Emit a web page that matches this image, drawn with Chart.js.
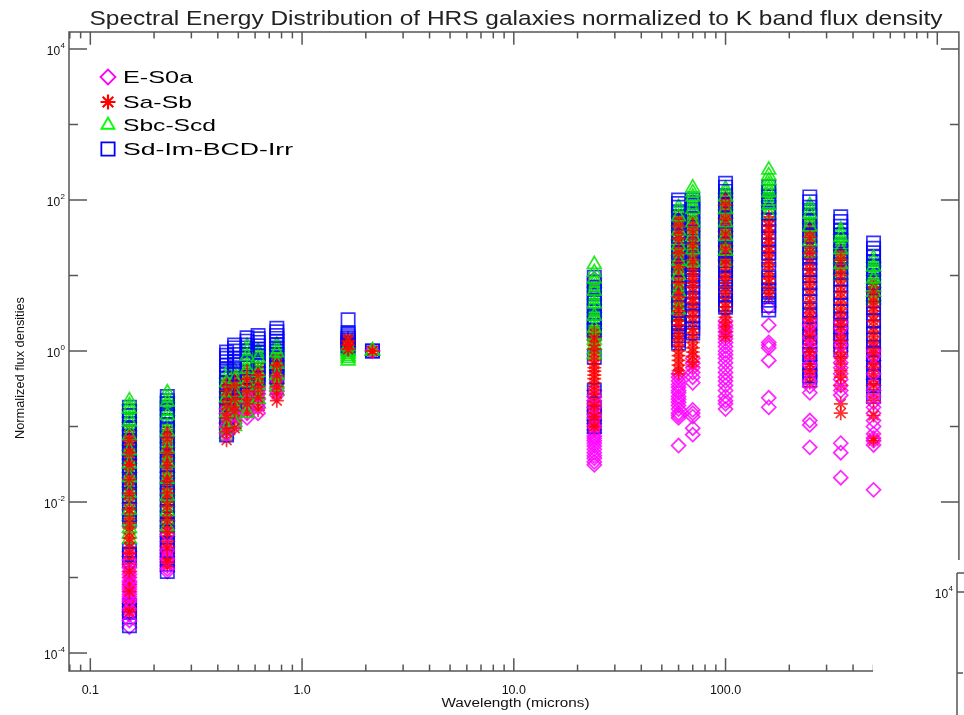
<!DOCTYPE html>
<html><head><meta charset="utf-8">
<script src="https://cdn.jsdelivr.net/npm/chart.js@4.4.0/dist/chart.umd.min.js"></script>
<style>
html,body{margin:0;padding:0;background:#fff;overflow:hidden;width:964px;height:715px}
#wrap{position:relative;width:970px;height:715px}
canvas{display:block}
</style></head>
<body><div id="wrap"><canvas id="c" width="970" height="715"></canvas></div>
<script>
// ---- data ----
const wavelengths = [0.153, 0.231, 0.44, 0.48, 0.55, 0.62, 0.76, 1.65, 2.15, 24, 60, 70, 100, 160, 250, 350, 500];
const seriesNames = ['E-S0a', 'Sa-Sb', 'Sbc-Scd', 'Sd-Im-BCD-Irr'];

const eS0a = [
  [2.2e-3,1.9e-3,1.7e-3,1.5e-3,1.35e-3,1.2e-3,1.1e-3,1.0e-3,9.0e-4,8.5e-4,8.0e-4,7.5e-4,7.0e-4,6.5e-4,6.0e-4,5.6e-4,5.2e-4,4.8e-4,4.5e-4,4.1e-4,3.8e-4,3.5e-4,3.2e-4,2.7e-4,2.2e-4],
  [5.5e-3,4.5e-3,3.7e-3,3.0e-3,2.6e-3,2.3e-3,2.1e-3,1.9e-3,1.75e-3,1.6e-3,1.45e-3,1.3e-3,1.2e-3],
  [0.2,0.17,0.15,0.13,0.11,0.1,0.09,0.08],
  [0.19,0.16,0.14,0.12,0.11,0.1],
  [0.3,0.25,0.22,0.19,0.17,0.15,0.13],
  [0.35,0.3,0.27,0.23,0.2,0.18,0.15],
  [0.55,0.48,0.42,0.37,0.32,0.29,0.26],
  [1.15,1.05],
  [1.0,1.0],
  [9.0,0.3,0.25,0.22,0.2,0.18,0.16,0.145,0.13,0.12,0.11,0.1,0.09,0.082,0.075,0.07,0.065,0.06,0.055,0.05,0.045,0.041,0.038,0.034,0.031],
  [0.5,0.45,0.4,0.36,0.33,0.3,0.28,0.25,0.23,0.21,0.19,0.17,0.15,0.14,0.13,0.056],
  [0.8,0.69,0.6,0.52,0.45,0.38,0.166,0.15,0.135,0.095,0.078],
  [2.5,2.2,2.0,1.8,1.6,1.45,1.3,1.15,1.0,0.9,0.8,0.7,0.6,0.52,0.45,0.4,0.35,0.3,0.25,0.22,0.2,0.17],
  [3.8,2.2,1.3,1.2,1.1,0.75,0.24,0.18],
  [3.0,2.6,2.2,1.9,1.7,1.5,1.3,1.15,1.0,0.88,0.75,0.65,0.55,0.47,0.4,0.34,0.28,0.12,0.105,0.053],
  [2.8,2.4,2.0,1.7,1.4,1.2,1.0,0.85,0.7,0.6,0.5,0.42,0.35,0.3,0.26,0.06,0.045,0.021],
  [1.1,1.0,0.85,0.75,0.62,0.5,0.42,0.35,0.3,0.25,0.21,0.18,0.15,0.12,0.1,0.08,0.07,0.065,0.057,0.0145]
];
const saSb = [
  [0.09,0.075,0.065,0.06,0.052,0.045,0.04,0.035,0.031,0.028,0.024,0.02,0.017,0.015,0.013,0.011,0.0095,0.008,0.007,0.006,0.0052,0.0045,0.0039,0.0033,0.0029,0.0025,0.0021,0.0018,0.0015,0.0012,0.001,0.0008,0.00065,0.0005,0.00042,0.00035],
  [0.09,0.08,0.07,0.06,0.05,0.045,0.04,0.035,0.03,0.026,0.022,0.019,0.017,0.015,0.013,0.0115,0.01,0.0088,0.0075,0.0066,0.0058,0.0051,0.0045,0.004,0.0035,0.003,0.0025,0.0021,0.0018,0.0016,0.0014],
  [0.4,0.35,0.3,0.26,0.22,0.19,0.17,0.15,0.13,0.115,0.1,0.085,0.066],
  [0.45,0.4,0.35,0.3,0.26,0.23,0.2,0.18,0.16,0.14,0.12,0.095],
  [0.55,0.48,0.42,0.37,0.33,0.29,0.26,0.23,0.2,0.175,0.15],
  [0.6,0.54,0.48,0.43,0.38,0.34,0.3,0.27,0.24,0.2,0.165],
  [0.8,0.72,0.65,0.58,0.52,0.47,0.42,0.38,0.34,0.3,0.27,0.22],
  [1.5,1.42,1.35,1.3,1.25,1.2,1.15,1.1,1.05],
  [1.0,1.0,1.0,1.0],
  [1.9,1.7,1.5,1.35,1.2,1.07,0.95,0.85,0.75,0.67,0.6,0.54,0.48,0.43,0.38,0.34,0.3,0.27,0.24,0.21,0.19,0.17,0.15,0.135,0.12,0.11,0.1,0.09],
  [60,52,45,40,35,31,27,23,20,17,15,13,11,9.5,8,7,6,5.2,4.5,3.9,3.4,2.9,2.5,2.2,1.9,1.6,1.4,1.2,1.0,0.87,0.75,0.65,0.55,0.5],
  [55,47,40,35,30,26,22,19,16,14,12,10.5,9,8,7,6,5,4.4,3.8,3.3,2.8,2.4,2.0,1.75,1.5,1.3,1.1,0.97,0.85,0.72,0.62],
  [110,100,87,75,65,55,48,40,35,30,26,22,19,16,14,12,10.5,9,8,7,6,5,4.4,3.8,3.3,2.8,2.4,2.1,1.8,1.55],
  [60,52,45,40,35,31,27,24,21,18.5,16,14,12,10.5,9,8,7,6,5.2],
  [45,38,32,28,24,20,17,14.5,12,10.5,9,7.7,6.5,5.5,4.5,3.8,3.2,2.7,2.3,1.9,1.6,1.35,1.1,0.95,0.8,0.67,0.55,0.46,0.38],
  [22,19,16,14,12,10,8.5,7.2,6,5.1,4.3,3.6,3.1,2.6,2.2,1.9,1.6,1.35,1.1,0.95,0.8,0.67,0.55,0.45,0.35,0.2,0.15],
  [8,7,6,5.2,4.5,3.9,3.4,2.9,2.5,2.1,1.8,1.55,1.3,1.1,0.95,0.82,0.7,0.6,0.5,0.42,0.35,0.28,0.22,0.14,0.07,0.065]
];
const sbcScd = [
  [0.22,0.19,0.17,0.15,0.13,0.115,0.1,0.087,0.075,0.065,0.055,0.048,0.042,0.037,0.032,0.028,0.024,0.021,0.018,0.015,0.013,0.011,0.009,0.0078,0.0065,0.0055,0.0045,0.0038,0.0032],
  [0.28,0.24,0.21,0.19,0.16,0.14,0.12,0.1,0.085,0.07,0.06,0.05,0.044,0.038,0.033,0.028,0.024,0.02,0.017,0.014,0.012,0.01,0.0087,0.0075,0.0065,0.0055,0.0047,0.004],
  [0.5,0.44,0.38,0.33,0.28,0.24,0.2,0.17,0.15,0.13,0.11,0.095,0.08],
  [0.55,0.48,0.42,0.37,0.32,0.28,0.24,0.21,0.18,0.15,0.13,0.115,0.1],
  [1.15,1.0,0.85,0.75,0.65,0.57,0.5,0.44,0.38,0.33,0.28,0.24,0.21,0.18,0.15],
  [1.0,0.9,0.8,0.7,0.6,0.52,0.45,0.4,0.35,0.31,0.27,0.23,0.2],
  [1.2,1.07,0.95,0.85,0.75,0.67,0.6,0.54,0.48,0.43,0.38,0.34,0.3],
  [1.3,1.22,1.15,1.07,1.0,0.95,0.9,0.85,0.8,0.74],
  [1.0,1.0,1.0],
  [14,11,9,8,7,6.2,5.5,4.8,4.2,3.7,3.3,2.9,2.6,2.3,2.0,1.8,1.6,1.4,1.2,1.05,0.9],
  [80,70,60,52,45,39,34,29,25,21,18,15.5,13,11.5,10,8.5,7,6,5,4.2,3.5,2.8],
  [145,125,110,97,85,75,65,57,50,44,38,33,28,25,22,19.5,17,15,13],
  [140,125,110,97,85,75,65,57,50,44,38,33,28,24,21,18,15],
  [250,210,180,160,140,125,110,97,85,75,65],
  [85,75,65,57,50,44,38,33,28,24,20],
  [40,36,32,28,25,22,19,16.5,14,12,10],
  [17,15,13,11.5,10,9,8,7,6,5.3,4.8]
];
const sdImBcdIrr = [
  [0.18,0.16,0.14,0.125,0.11,0.097,0.085,0.075,0.065,0.057,0.05,0.045,0.04,0.035,0.03,0.026,0.022,0.019,0.016,0.014,0.012,0.01,0.008,0.0068,0.0058,0.0023,0.002,0.0017,0.00043,0.00036,0.0003,0.00023],
  [0.25,0.22,0.2,0.18,0.16,0.14,0.12,0.105,0.09,0.08,0.07,0.06,0.05,0.042,0.035,0.03,0.025,0.021,0.018,0.015,0.013,0.011,0.009,0.0075,0.006,0.005,0.004,0.0034,0.0028,0.0023,0.0019,0.0015,0.0012],
  [0.97,0.88,0.8,0.72,0.65,0.57,0.5,0.44,0.38,0.33,0.28,0.24,0.2,0.16,0.13,0.098,0.077],
  [1.2,1.1,1.0,0.9,0.8,0.72,0.65,0.57,0.5,0.44,0.38,0.33,0.28,0.24,0.2],
  [1.5,1.35,1.2,1.1,1.0,0.9,0.8,0.7,0.6,0.52,0.45,0.4,0.35,0.3,0.26],
  [1.6,1.45,1.3,1.17,1.05,0.95,0.85,0.75,0.65,0.57,0.5,0.44,0.38],
  [2.0,1.8,1.6,1.47,1.35,1.22,1.1,1.0,0.9,0.8,0.7,0.62,0.55,0.5,0.45],
  [2.6,1.75,1.65,1.55,1.47,1.4,1.32,1.25,1.17,1.1],
  [1.0,1.0],
  [9.5,8.2,7,6,5,4.4,3.8,3.3,2.8,2.4,2.1,1.9,1.7,0.83,0.3,0.18,0.15,0.1],
  [100,90,80,70,60,52,45,39,33,28,24,20,17,14.5,12,10,8,6.7,5.5,4.6,3.8,3.2,2.6,2.3,2.1,1.8,1.6,1.4,1.27],
  [100,92,85,75,65,56,48,42,36,31,26,22,19,16.5,14,12,10,8.5,7,6,5,4.2,3.5,2.9,2.4,2.0,1.73],
  [167,148,130,115,100,87,75,65,55,47,40,35,30,26,22,19,16,14,12,10.5,9,7.7,6.5,5.5,4.7,4.2,3.8],
  [150,130,110,95,80,67,55,46,38,31,25,20,16,12,9.3,7.8,6.4,5.5,4.7,4.0,3.5],
  [110,95,80,70,60,52,45,39,33,28,24,20,17,14.5,12,10,8,6.7,5.5,4.5,3.5,2.9,2.3,1.9,1.5,1.2,0.9,0.7,0.55,0.47,0.41],
  [60,52,45,39,34,29,25,21,18,15.5,13,11,9,7.5,6,5,4,3.3,2.6,2.1,1.7,1.35,1.03],
  [27,23,20,17.5,15,13,11,9.5,8,6.7,5.5,4.6,3.8,3.1,2.5,2.1,1.7,1.4,1.1,0.9,0.7,0.55,0.45,0.35,0.25]
];

const xTickValues = [0.1, 1, 10, 100];
const xTickLabels = ['0.1', '1.0', '10.0', '100.0'];
const yTickValues = [1e-4, 1e-2, 1, 1e2, 1e4];
const yTickExponents = ['-4', '-2', '0', '2', '4'];

const titleText = 'Spectral Energy Distribution of HRS galaxies normalized to K band flux density';
const xTitle = 'Wavelength (microns)';
const yTitle = 'Normalized flux densities';

// ---- styling ----
const colors = ['rgba(255,0,255,0.85)', 'rgba(255,0,0,0.8)', 'rgba(0,230,0,0.85)', 'rgba(0,0,255,0.8)'];
const legendColors = ['#ff00ff', '#ff0000', '#00ff00', '#0000ff'];
const styles = ['rectRot', 'star', 'triangle', 'rect'];
const radii = [7, 7, 8, 9.4];
const drawOrder = [3, 1, 2, 4];   // within a pass: lower = drawn on top
const PASSES = 3;                 // galaxies are plotted in interleaved passes, as in the original

const allSeries = [eS0a, saSb, sbcScd, sdImBcdIrr];
const datasets = [];
for (let p = 0; p < PASSES; p++) {
  allSeries.forEach((s, i) => {
    const pts = [];
    s.forEach((vals, w) => vals.forEach((v, j) => { if (j % PASSES === p) pts.push({x: wavelengths[w], y: v}); }));
    datasets.push({
      label: seriesNames[i],
      data: pts,
      pointStyle: styles[i],
      pointRadius: radii[i],
      pointHoverRadius: radii[i],
      borderColor: colors[i],
      backgroundColor: 'rgba(0,0,0,0)',
      pointBorderWidth: 1.7,
      order: (PASSES - p) * 10 + drawOrder[i]
    });
  });
}

function fitText(ctx, text, x, y, width, align) {
  const w = ctx.measureText(text).width;
  const s = width / w;
  ctx.save();
  ctx.translate(x, y);
  ctx.scale(s, 1);
  ctx.textAlign = align;
  ctx.fillText(text, 0, 0);
  ctx.restore();
}
function seg(ctx, x1, y1, x2, y2) {
  ctx.beginPath(); ctx.moveTo(x1, y1); ctx.lineTo(x2, y2); ctx.stroke();
}
function drawSymbol(ctx, style, x, y, r) {
  ctx.beginPath();
  if (style === 'rectRot') {
    ctx.moveTo(x - r, y); ctx.lineTo(x, y - r); ctx.lineTo(x + r, y); ctx.lineTo(x, y + r); ctx.closePath();
  } else if (style === 'rect') {
    const s = r * Math.SQRT1_2; ctx.rect(x - s, y - s, 2 * s, 2 * s);
  } else if (style === 'triangle') {
    const h = r * 0.866;
    ctx.moveTo(x - h, y + r * 0.5); ctx.lineTo(x, y - r); ctx.lineTo(x + h, y + r * 0.5); ctx.closePath();
  } else if (style === 'star') {
    for (let k = 0; k < 4; k++) {
      const a = k * Math.PI / 4;
      ctx.moveTo(x - Math.cos(a) * r, y - Math.sin(a) * r);
      ctx.lineTo(x + Math.cos(a) * r, y + Math.sin(a) * r);
    }
  }
  ctx.stroke();
}

const FONT = '"Liberation Sans", "DejaVu Sans", Arial, sans-serif';

const idlPlugin = {
  id: 'idlAxes',
  afterDraw(chart) {
    const ctx = chart.ctx, xs = chart.scales.x, ys = chart.scales.y, a = chart.chartArea;
    ctx.save();
    ctx.strokeStyle = '#555'; ctx.lineWidth = 1.5;
    ctx.strokeRect(a.left, a.top, a.right - a.left, a.bottom - a.top);
    for (let e = -2; e <= 3; e++) {
      for (let k = 1; k < 10; k++) {
        const v = k * Math.pow(10, e);
        if (v < xs.min || v > xs.max) continue;
        const px = xs.getPixelForValue(v);
        const L = k === 1 ? 12.8 : 6.4;
        seg(ctx, px, a.bottom, px, a.bottom - L);
        seg(ctx, px, a.top, px, a.top + L);
      }
    }
    for (let e = -4; e <= 4; e++) {
      const py = ys.getPixelForValue(Math.pow(10, e));
      const L = e % 2 === 0 ? 18 : 9;
      seg(ctx, a.left, py, a.left + L, py);
      seg(ctx, a.right, py, a.right - L, py);
    }
    ctx.fillStyle = '#111';
    ctx.textBaseline = 'alphabetic';
    ctx.font = '12.5px ' + FONT;
    ctx.textAlign = 'center';
    xTickValues.forEach((v, i) => {
      ctx.fillText(xTickLabels[i], xs.getPixelForValue(v), a.bottom + 23);
    });
    yTickValues.forEach((v, i) => {
      const py = ys.getPixelForValue(v);
      ctx.font = '8px ' + FONT;
      const we = ctx.measureText(yTickExponents[i]).width;
      ctx.font = '12px ' + FONT;
      const wb = ctx.measureText('10').width;
      const x0 = a.left - 4 - we - wb - 0.5;
      ctx.textAlign = 'left';
      ctx.fillText('10', x0, py + 6);
      ctx.font = '8px ' + FONT;
      ctx.fillText(yTickExponents[i], x0 + wb + 0.5, py - 1);
    });
    ctx.font = '12.5px ' + FONT;
    fitText(ctx, xTitle, 515.5, 707, 148, 'center');
    ctx.save();
    ctx.translate(23.5, 368);
    ctx.rotate(-Math.PI / 2);
    ctx.font = '12px ' + FONT;
    fitText(ctx, yTitle, 0, 0, 142, 'center');
    ctx.restore();
    ctx.fillStyle = '#222';
    ctx.font = '300 21px ' + FONT;
    fitText(ctx, titleText, 516, 25, 853, 'center');
    const legY = [77, 102, 125, 149];
    const legW = [70, 69, 93, 170];
    ctx.font = '17px ' + FONT;
    seriesNames.forEach((n, i) => {
      ctx.strokeStyle = legendColors[i];
      ctx.lineWidth = i === 1 ? 2.2 : 1.8;
      drawSymbol(ctx, styles[i], 108, legY[i], i === 3 ? 9.4 : 7.5);
      ctx.fillStyle = '#000';
      fitText(ctx, n, 123, legY[i] + 6.3, legW[i], 'left');
    });
    // overlapping second window in the lower right corner
    ctx.fillStyle = '#fff';
    ctx.fillRect(873, 560, 100, 160);
    ctx.strokeStyle = '#555'; ctx.lineWidth = 1.5;
    seg(ctx, 957, 573, 957, 716);
    seg(ctx, 957, 573, 970, 573);
    seg(ctx, 957, 592, 966, 592);
    seg(ctx, 957, 673, 963, 673);
    ctx.fillStyle = '#111';
    ctx.font = '8px ' + FONT;
    const we4 = ctx.measureText('4').width;
    ctx.font = '12px ' + FONT;
    const wb4 = ctx.measureText('10').width;
    const x4 = 953 - we4 - wb4 - 0.5;
    ctx.textAlign = 'left';
    ctx.fillText('10', x4, 598);
    ctx.font = '8px ' + FONT;
    ctx.fillText('4', x4 + wb4 + 0.5, 591);
    ctx.restore();
  }
};

new Chart(document.getElementById('c').getContext('2d'), {
  type: 'scatter',
  data: { datasets },
  options: {
    responsive: false,
    animation: false,
    devicePixelRatio: 1,
    layout: { padding: { left: 69, top: 32, right: 5, bottom: 44 } },
    plugins: { legend: { display: false }, tooltip: { enabled: false } },
    scales: {
      x: { type: 'logarithmic', min: 0.0793, max: 1265, display: false },
      y: { type: 'logarithmic', min: 5.78e-5, max: 16790, display: false }
    }
  },
  plugins: [idlPlugin]
});
</script>
</body></html>
